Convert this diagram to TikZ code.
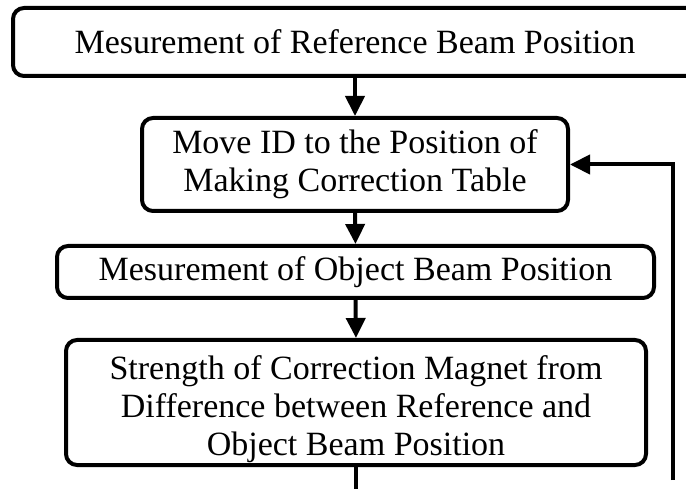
\documentclass[tikz,border=0pt]{standalone}
\usepackage{fontspec}
\setmainfont{Liberation Serif}
\usetikzlibrary{arrows.meta}
\begin{document}
\begin{tikzpicture}[x=1pt,y=-1pt,
  stepbox/.style={draw=black, line width=4pt, rounded corners=11pt, fill=white,
    align=center, inner sep=0pt, font=\fontsize{34}{38}\selectfont},
  flow/.style={line width=4pt, -{Triangle[width=19pt,length=20pt]}}]
\useasboundingbox (0,0) rectangle (686,489);
\clip (0,0) rectangle (686,489);
\fill[white] (0,0) rectangle (686,489);
\node[stepbox, minimum width=684pt, minimum height=68pt] (box1) at (355,42)
  {Mesurement of Reference Beam Position};
\node[stepbox, minimum width=426pt, minimum height=93pt] (box2) at (355,164.5)
  {Move ID to the Position of\\Making Correction Table};
\node[stepbox, minimum width=597pt, minimum height=52pt] (box3) at (355.5,272)
  {Mesurement of Object Beam Position};
\node[stepbox, minimum width=580pt, minimum height=125pt] (box4) at (356,402.5)
  {\rule{0pt}{37pt}Strength of Correction Magnet from\\Difference between Reference and\\Object Beam Position};
\coordinate (out) at (356,500);
\coordinate (fb) at (673,480);
\draw[flow] (box1.south) -- (box2.north);
\draw[flow] (box2.south) -- (box3.north);
\draw[flow] (box3.south) -- (box4.north);
\draw[line width=4pt] (box4.south) -- (out);
\draw[flow] (fb) |- (box2.east);
\end{tikzpicture}
\end{document}
